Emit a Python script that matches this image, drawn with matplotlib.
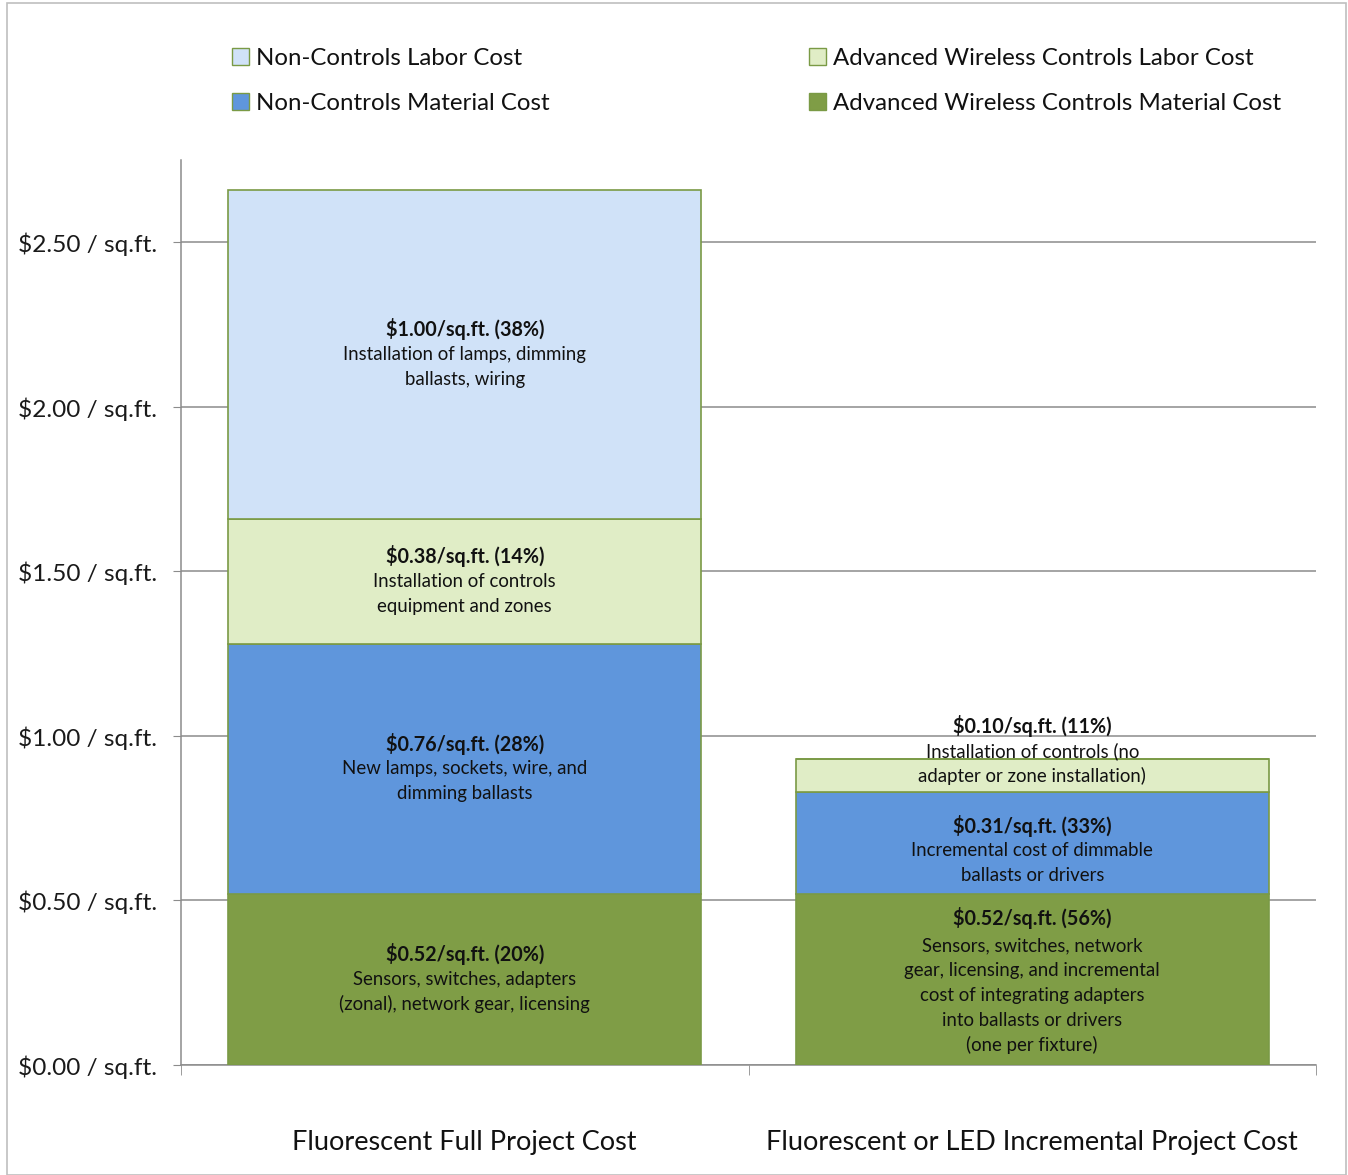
import matplotlib
matplotlib.use("Agg")
import matplotlib.pyplot as plt
from matplotlib.patches import Rectangle, Patch
import numpy as np

plt.rcParams['font.family'] = ['Lato', 'DejaVu Sans']

categories = ["Fluorescent Full Project Cost", "Fluorescent or LED Incremental Project Cost"]
series_names = ["Advanced Wireless Controls Material Cost", "Non-Controls Material Cost",
                "Advanced Wireless Controls Labor Cost", "Non-Controls Labor Cost"]
series_values = [
    [0.52, 0.52],   # Advanced Wireless Controls Material Cost
    [0.76, 0.31],   # Non-Controls Material Cost
    [0.38, 0.10],   # Advanced Wireless Controls Labor Cost
    [1.00, 0.00],   # Non-Controls Labor Cost
]
colors = ["#7F9D46", "#5F96DC", "#E0EDC6", "#D0E2F8"]
edge = "#7A9A45"

titles = [
    ["$0.52/sq.ft. (20%)", "$0.52/sq.ft. (56%)"],
    ["$0.76/sq.ft. (28%)", "$0.31/sq.ft. (33%)"],
    ["$0.38/sq.ft. (14%)", "$0.10/sq.ft. (11%)"],
    ["$1.00/sq.ft. (38%)", None],
]
descs = [
    [["Sensors, switches, adapters", "(zonal), network gear, licensing"],
     ["Sensors, switches, network", "gear, licensing, and incremental",
      "cost of integrating adapters", "into ballasts or drivers", "(one per fixture)"]],
    [["New lamps, sockets, wire, and", "dimming ballasts"],
     ["Incremental cost of dimmable", "ballasts or drivers"]],
    [["Installation of controls", "equipment and zones"],
     ["Installation of controls (no", "adapter or zone installation)"]],
    [["Installation of lamps, dimming", "ballasts, wiring"], None],
]
yticks = [0.0, 0.5, 1.0, 1.5, 2.0, 2.5]
ytick_labels = ["$0.00 / sq.ft.", "$0.50 / sq.ft.", "$1.00 / sq.ft.",
                "$1.50 / sq.ft.", "$2.00 / sq.ft.", "$2.50 / sq.ft."]

# label vertical nudges in pixels (layout only)
nudge = {(0, 1): -2.5, (1, 1): -5.5, (2, 1): 0.085}

W, H = 1348, 1175
fig = plt.figure(figsize=(W/100, H/100), dpi=100)
ax = fig.add_axes([181/W, 1 - 1065/H, (1316-181)/W, (1065-160)/H])

x = np.arange(len(categories))
bottom = np.zeros(len(categories))
for i, vals in enumerate(series_values):
    vals = np.array(vals)
    ax.bar(x, vals, bottom=bottom, width=0.834, color=colors[i], edgecolor=edge,
           linewidth=1.2, zorder=3)
    for j in range(len(categories)):
        if vals[j] <= 0:
            continue
        lines = [titles[i][j]] + descs[i][j]
        n = len(lines)
        yc = bottom[j] + vals[j] / 2
        dy = 0.0
        if (i, j) == (2, 1):
            yc += nudge[(i, j)]
            dy = -2.5
        elif (i, j) in nudge:
            dy = nudge[(i, j)]
        step = 18.0
        for k, line in enumerate(lines):
            off = ((n - 1) / 2 - k) * step + dy
            if k == 0 and n > 3:
                off += 1.5
            ax.annotate(line, (x[j], yc), xytext=(0, off), textcoords='offset points',
                        ha='center', va='center', fontsize=13.4 if k else 14.2,
                        fontweight='bold' if k == 0 else 'normal', color='#111111', zorder=5)
    bottom += vals

ax.set_xlim(-0.5, 1.5)
ax.set_ylim(0, 2.75)
ax.set_yticks(yticks)
ax.set_yticklabels(ytick_labels, fontsize=17.6, color='#1a1a1a')
ax.yaxis.grid(True, color='#8C8C8C', linewidth=1.1, zorder=0)
ax.set_axisbelow(True)
ax.tick_params(axis='y', length=6, color='#8C8C8C', pad=11.5)
ax.set_xticks(x)
ax.set_xticklabels(categories, fontsize=19.5, color='#111111')
ax.tick_params(axis='x', which='major', length=0, pad=46.5)
ax.set_xticks([-0.5, 0.5, 1.5], minor=True)
ax.tick_params(axis='x', which='minor', length=7, color='#8C8C8C')
for s in ['top', 'right']:
    ax.spines[s].set_visible(False)
for s in ['left', 'bottom']:
    ax.spines[s].set_color('#8C8C8C')
    ax.spines[s].set_linewidth(1.1)

groups = [([3, 1], 222), ([2, 0], 799)]
for idxs, xpx in groups:
    handles = [Patch(facecolor=colors[i], edgecolor=edge, linewidth=1.0) for i in idxs]
    labels = [series_names[i] for i in idxs]
    leg = fig.legend(handles, labels, loc='upper left', bbox_to_anchor=(xpx/W, 1 - 38/H),
                     ncol=1, frameon=False, fontsize=17.3, handlelength=0.72, handleheight=0.72,
                     handletextpad=0.3, labelspacing=1.0, borderaxespad=0)
    for t in leg.get_texts():
        t.set_color('#111111')

fig.patches.append(Rectangle((7/W, 0), (1346-7)/W, 1 - 3/H, transform=fig.transFigure,
                             fill=False, edgecolor='#BFBFBF', linewidth=1.2))

fig.savefig("out.png", dpi=100)
